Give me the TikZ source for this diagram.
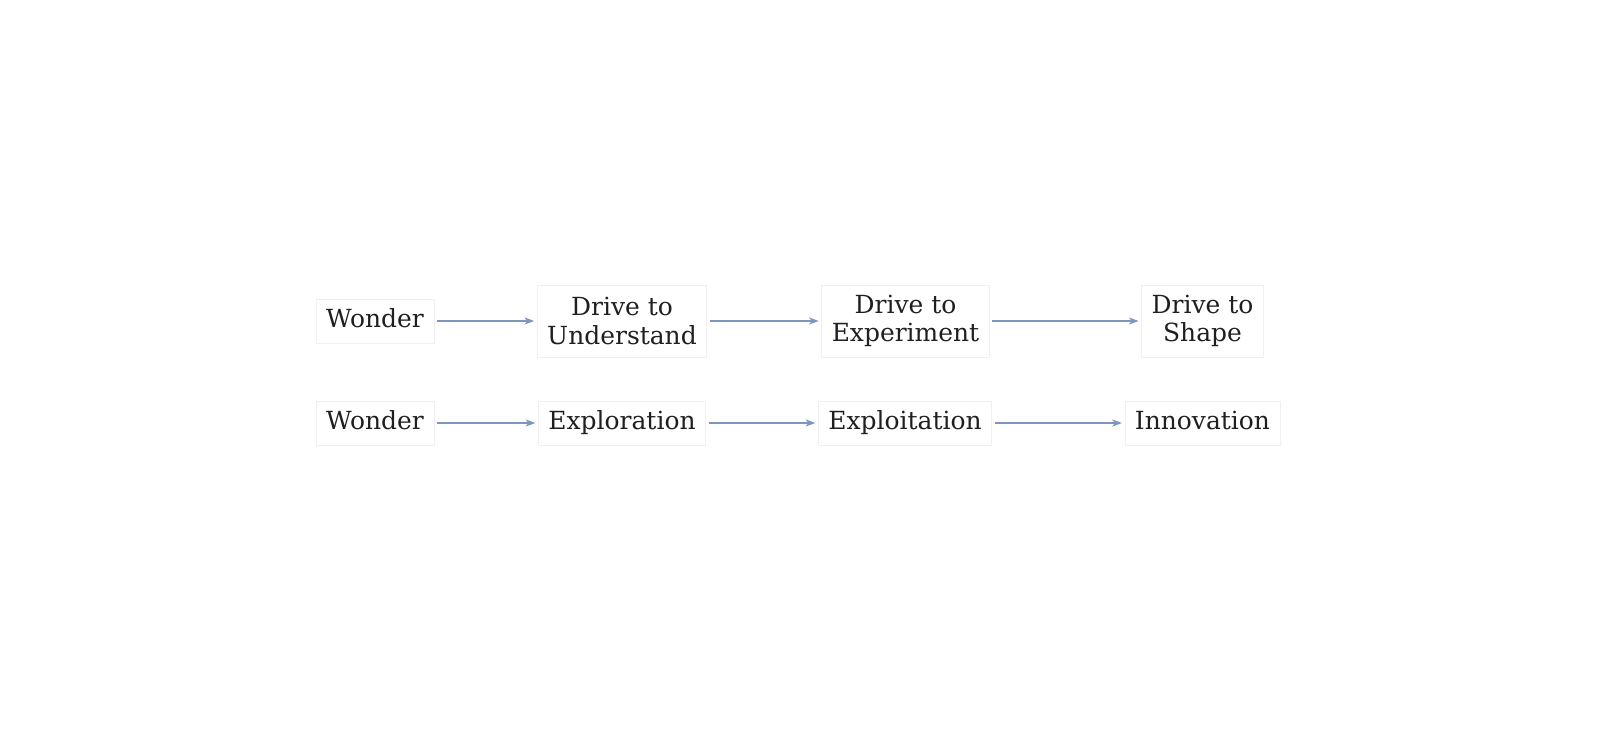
\documentclass[tikz,border=0pt]{standalone}
\usepackage{fontspec}
\setmainfont{DejaVu Serif}
\usetikzlibrary{arrows.meta}
\definecolor{flowblue}{RGB}{125,150,192}
\definecolor{boxline}{RGB}{240,240,240}
\begin{document}
\begin{tikzpicture}[
		box/.style={draw=boxline,line width=0.4pt,inner xsep=0.2cm,inner ysep=0pt,align=center,text=black!88,font=\fontsize{14.2}{16.2}\selectfont},
		tall/.style={box,minimum height=1.44cm},
		flat/.style={box,minimum height=0.88cm,text height=10.5pt,text depth=3pt},
		flow/.style={draw=flowblue,line width=0.85pt,-{Stealth[length=5.5pt,width=4pt,inset=1.5pt]},shorten <=1.5pt,shorten >=1.5pt},
	]
	\useasboundingbox (0,0) rectangle (32,-14.6);
	% first row
	\node[flat] (wonderA)    at (7.5,-6.42)   {Wonder};
	\node[tall] (understand) at (12.44,-6.42) {Drive to\\Understand};
	\node[tall] (experiment) at (18.11,-6.42) {Drive to\\Experiment};
	\node[tall] (shape)      at (24.05,-6.42) {Drive to\\Shape};
	% second row
	\node[flat] (wonderB)      at (7.5,-8.46)   {Wonder};
	\node[flat] (exploration)  at (12.44,-8.46) {Exploration};
	\node[flat] (exploitation) at (18.1,-8.46)  {Exploitation};
	\node[flat] (innovation)   at (24.05,-8.46) {Innovation};
	\foreach \a/\b in {wonderA/understand,understand/experiment,experiment/shape,
			wonderB/exploration,exploration/exploitation,exploitation/innovation}
		\draw[flow] (\a) -- (\b);
\end{tikzpicture}
\end{document}
